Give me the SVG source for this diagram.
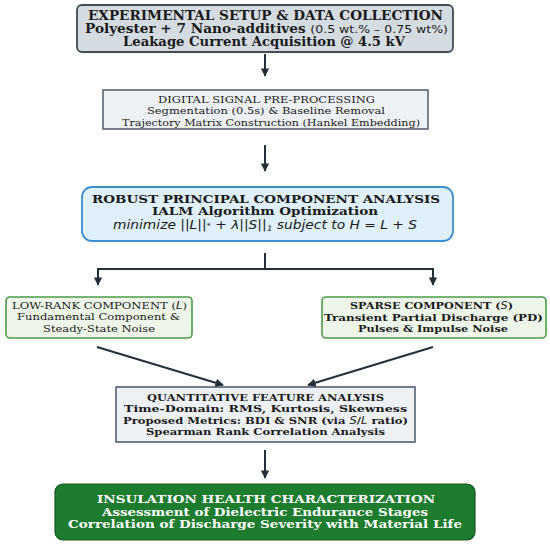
<svg xmlns="http://www.w3.org/2000/svg" width="550" height="549" viewBox="0 0 550 549">
<defs>
<marker id="ah" viewBox="0 0 10 10" refX="9" refY="5" markerWidth="4.2" markerHeight="4.2" orient="auto" markerUnits="strokeWidth">
<path d="M0,0 L10,5 L0,10 z" fill="#233038"/>
</marker>
<style>
.t{font-family:"DejaVu Serif","Liberation Serif",serif;text-anchor:middle;fill:#1a1a1a}
.b{font-weight:bold}
.m{font-family:"DejaVu Sans","Liberation Sans",sans-serif;font-weight:normal}
.i{font-family:"DejaVu Sans","Liberation Sans",sans-serif;font-style:italic;font-weight:normal}
.c{stroke:#233038;stroke-width:2;fill:none}
.w{fill:#ffffff}
</style>
</defs>
<rect width="550" height="549" fill="#ffffff"/>
<g id="n-setup">
<rect x="77" y="5" width="376" height="47" rx="5" fill="#d4dce2" stroke="#424a52" stroke-width="1.8"/>
<text class="t b" x="265.5" y="20" font-size="12" textLength="355" lengthAdjust="spacingAndGlyphs">EXPERIMENTAL SETUP &amp; DATA COLLECTION</text>
<text class="t b" x="266.5" y="33" font-size="12" textLength="363" lengthAdjust="spacingAndGlyphs">Polyester + 7 Nano-additives <tspan class="m" font-size="11">(0.5 wt.% – 0.75 wt%)</tspan></text>
<text class="t b" x="264" y="45.5" font-size="12" textLength="282" lengthAdjust="spacingAndGlyphs">Leakage Current Acquisition @ 4.5 kV</text>
</g>
<g id="n-dsp">
<rect x="103" y="90" width="325" height="39" fill="#eef1f4" stroke="#5b6670" stroke-width="1.6"/>
<text class="t" x="266.5" y="103" font-size="9.8" textLength="217" lengthAdjust="spacingAndGlyphs">DIGITAL SIGNAL PRE-PROCESSING</text>
<text class="t" x="266" y="114.3" font-size="9.8" textLength="238" lengthAdjust="spacingAndGlyphs">Segmentation (0.5s) &amp; Baseline Removal</text>
<text class="t" x="271" y="125.5" font-size="9.8" textLength="298" lengthAdjust="spacingAndGlyphs">Trajectory Matrix Construction (Hankel Embedding)</text>
</g>
<g id="n-rpca">
<rect x="82" y="187" width="371" height="54" rx="10" fill="#e0f0fb" stroke="#3d8ed0" stroke-width="1.8"/>
<text class="t b" x="266" y="202.5" font-size="11" textLength="348" lengthAdjust="spacingAndGlyphs">ROBUST PRINCIPAL COMPONENT ANALYSIS</text>
<text class="t b" x="265" y="215" font-size="11" textLength="226" lengthAdjust="spacingAndGlyphs">IALM Algorithm Optimization</text>
<text class="t i" x="265" y="229" font-size="11.4" textLength="304" lengthAdjust="spacingAndGlyphs">minimize ||L||<tspan font-size="7" dy="-1">*</tspan><tspan dy="1"> + λ||S||</tspan><tspan font-size="7.5" dy="1.5">1</tspan><tspan dy="-1.5">  subject to  H = L + S</tspan></text>
</g>
<g id="n-lowrank">
<rect x="6" y="297" width="186" height="41" rx="4" fill="#eef6ea" stroke="#4e9a48" stroke-width="1.6"/>
<text class="t" x="99.5" y="309" font-size="10" textLength="175" lengthAdjust="spacingAndGlyphs">LOW-RANK COMPONENT (<tspan class="i">L</tspan>)</text>
<text class="t" x="98.5" y="320.3" font-size="10" textLength="163" lengthAdjust="spacingAndGlyphs">Fundamental Component &amp;</text>
<text class="t" x="99" y="331.6" font-size="10" textLength="112" lengthAdjust="spacingAndGlyphs">Steady-State Noise</text>
</g>
<g id="n-sparse">
<rect x="322" y="297" width="224" height="41" rx="4" fill="#eef6ea" stroke="#4e9a48" stroke-width="1.6"/>
<text class="t b" x="431.5" y="309" font-size="10" textLength="163" lengthAdjust="spacingAndGlyphs">SPARSE COMPONENT (<tspan class="i">S</tspan>)</text>
<text class="t b" x="433.5" y="320.5" font-size="10" textLength="219" lengthAdjust="spacingAndGlyphs">Transient Partial Discharge (PD)</text>
<text class="t b" x="433" y="331.8" font-size="10" textLength="150" lengthAdjust="spacingAndGlyphs">Pulses &amp; Impulse Noise</text>
</g>
<g id="n-feature">
<rect x="116" y="387" width="299" height="55" fill="#eef1f4" stroke="#556270" stroke-width="1.6"/>
<text class="t b" x="265.5" y="400.5" font-size="10" textLength="237" lengthAdjust="spacingAndGlyphs">QUANTITATIVE FEATURE ANALYSIS</text>
<text class="t b" x="265.5" y="412" font-size="10" textLength="283" lengthAdjust="spacingAndGlyphs">Time-Domain: RMS, Kurtosis, Skewness</text>
<text class="t b" x="265.5" y="423.5" font-size="10" textLength="285" lengthAdjust="spacingAndGlyphs">Proposed Metrics: BDI &amp; SNR (via <tspan class="i">S</tspan>/<tspan class="i">L</tspan> ratio)</text>
<text class="t b" x="265.5" y="434.8" font-size="10" textLength="239" lengthAdjust="spacingAndGlyphs">Spearman Rank Correlation Analysis</text>
</g>
<g id="n-health">
<rect x="55" y="484" width="420" height="56" rx="8" fill="#1d7c2e" stroke="#15571f" stroke-width="1.2"/>
<text class="t b w" x="266" y="503" font-size="11.5" textLength="338" lengthAdjust="spacingAndGlyphs">INSULATION HEALTH CHARACTERIZATION</text>
<text class="t b w" x="265" y="515.7" font-size="11.5" textLength="326" lengthAdjust="spacingAndGlyphs">Assessment of Dielectric Endurance Stages</text>
<text class="t b w" x="265" y="528.4" font-size="11.5" textLength="394" lengthAdjust="spacingAndGlyphs">Correlation of Discharge Severity with Material Life</text>
</g>
<g id="connectors">
<line class="c" x1="265" y1="54" x2="265" y2="76" marker-end="url(#ah)"/>
<line class="c" x1="265" y1="145" x2="265" y2="171" marker-end="url(#ah)"/>
<line class="c" x1="265" y1="253" x2="265" y2="269"/>
<polyline class="c" points="98,285 98,269 433,269 433,285" marker-end="url(#ah)"/>
<line class="c" x1="98" y1="269" x2="98" y2="285" marker-end="url(#ah)"/>
<line class="c" x1="97" y1="347" x2="223" y2="385" marker-end="url(#ah)"/>
<line class="c" x1="433" y1="347" x2="308" y2="385" marker-end="url(#ah)"/>
<line class="c" x1="265" y1="450" x2="265" y2="478" marker-end="url(#ah)"/>
</g>
</svg>
